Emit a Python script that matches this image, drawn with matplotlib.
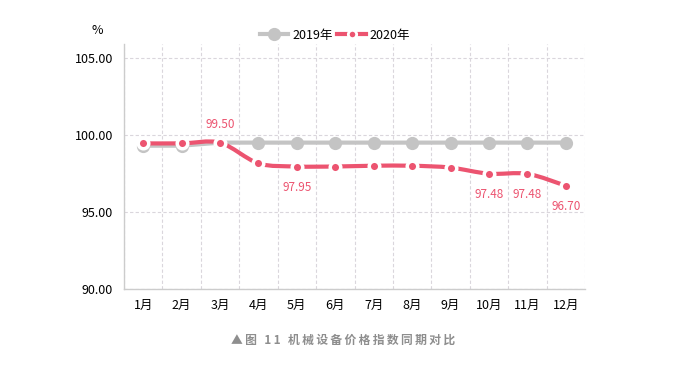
import matplotlib
matplotlib.use("Agg")
import matplotlib.pyplot as plt
import numpy as np
from matplotlib.path import Path
from matplotlib.patches import PathPatch
from matplotlib.lines import Line2D

plt.rcParams['font.family'] = ['Noto Sans CJK SC', 'DejaVu Sans']

months = ["1月", "2月", "3月", "4月", "5月", "6月", "7月", "8月", "9月", "10月", "11月", "12月"]
idx_2019 = [99.30, 99.30, 99.50, 99.50, 99.50, 99.50, 99.50, 99.50, 99.50, 99.50, 99.50, 99.50]
idx_2020 = [99.45, 99.45, 99.50, 98.15, 97.95, 97.95, 98.00, 98.00, 97.88, 97.48, 97.48, 96.70]
labelled = {2: "99.50", 4: "97.95", 9: "97.48", 10: "97.48", 11: "96.70"}

GRAY = "#c4c4c4"
RED = "#ec5470"


def smooth_path(x, y, t=0.3):
    # catmull-rom style bezier through the points
    x = np.asarray(x, float)
    y = np.asarray(y, float)
    verts = [(x[0], y[0])]
    codes = [Path.MOVETO]
    n = len(x)
    for i in range(n - 1):
        p0 = i - 1 if i > 0 else i
        p3 = i + 2 if i + 2 < n else i + 1
        c1 = (x[i] + (x[i + 1] - x[p0]) * t / 2, y[i] + (y[i + 1] - y[p0]) * t / 2)
        c2 = (x[i + 1] - (x[p3] - x[i]) * t / 2, y[i + 1] - (y[p3] - y[i]) * t / 2)
        verts += [c1, c2, (x[i + 1], y[i + 1])]
        codes += [Path.CURVE4] * 3
    return Path(verts, codes)


fig = plt.figure(figsize=(6.95, 3.65), dpi=100)
ax = fig.add_axes([124 / 695, 76 / 365, 461 / 695, 245 / 365])

xs = np.arange(len(months))

# 2019
ax.plot(xs, idx_2019, color=GRAY, lw=3, marker="o", ms=8.5, mfc=GRAY, mec=GRAY, zorder=3)

# 2020 smoothed, white-ringed dots break the line
patch = PathPatch(smooth_path(xs, idx_2020), fill=False, edgecolor=RED, lw=3,
                  capstyle="round", zorder=4)
ax.add_patch(patch)
ax.plot(xs, idx_2020, linestyle="none", marker="o", ms=7.6, mfc=RED, mec="white", mew=2.5, zorder=5)

for i, txt in labelled.items():
    if i == 2:
        ax.annotate(txt, (xs[i], idx_2020[i]), xytext=(0, 12), textcoords="offset pixels",
                    ha="center", va="bottom", color=RED, fontsize=8.5)
    else:
        ax.annotate(txt, (xs[i], idx_2020[i]), xytext=(0, -14), textcoords="offset pixels",
                    ha="center", va="top", color=RED, fontsize=8.5)

ax.set_xlim(-0.5, len(months) - 0.5)
ax.set_ylim(90, 105.9)
ax.set_yticks([90, 95, 100, 105])
ax.set_yticklabels(["90.00", "95.00", "100.00", "105.00"], fontsize=9)
ax.set_xticks(xs)
ax.set_xticklabels(months, fontsize=9)
ax.set_xticks(np.arange(-0.5, len(months)), minor=True)
ax.tick_params(axis="both", which="both", length=0, pad=7)
ax.tick_params(axis="y", pad=8)
ax.grid(axis="y", which="major", color="#dad6dc", linestyle=(0, (3, 2)), lw=0.8)
ax.grid(axis="x", which="minor", color="#dad6dc", linestyle=(0, (3, 2)), lw=0.8)
for s in ["top", "right"]:
    ax.spines[s].set_visible(False)
for s in ["left", "bottom"]:
    ax.spines[s].set_color("#cccccc")
    ax.spines[s].set_linewidth(1)

fig.text(97 / 695, 1 - 30 / 365, "%", fontsize=9, ha="center", va="center")

handles = [
    Line2D([], [], color=GRAY, lw=3, marker="o", ms=8.5, mfc=GRAY, mec=GRAY),
    Line2D([], [], color=RED, lw=3, marker="o", ms=6, mfc=RED, mec="white", mew=2),
]
fig.legend(handles, ["2019年", "2020年"], loc="center", bbox_to_anchor=(335 / 695, 1 - 35 / 365),
           ncol=2, frameon=False, fontsize=9, handlelength=2.3, handletextpad=0.3, columnspacing=0.4)

caption = "\u2009".join("▲图 11 机械设备价格指数同期对比")
fig.text(343 / 695, 1 - 340 / 365, caption, fontsize=8.5, color="#8e8e8e",
         fontweight="bold", ha="center", va="center")

fig.savefig("out.png", dpi=100, facecolor="white")
